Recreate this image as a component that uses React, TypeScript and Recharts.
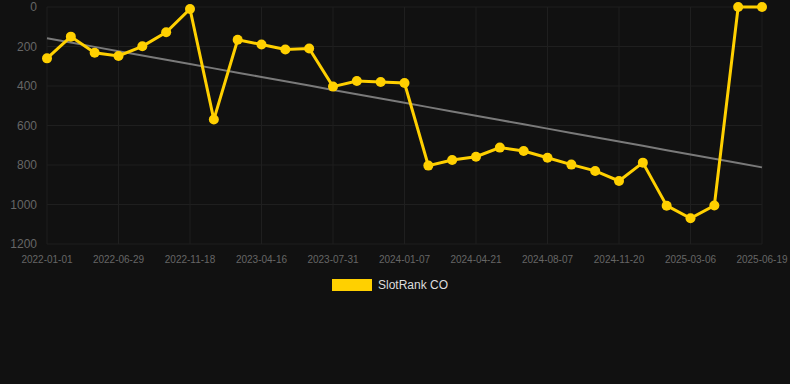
import React from 'react';
import { LineChart, Line, XAxis, YAxis, CartesianGrid, Legend } from 'recharts';

const dates = [
  '2022-01-01', '2022-02-28', '2022-04-29', '2022-06-29', '2022-08-15', '2022-10-01',
  '2022-11-18', '2022-12-28', '2023-02-15', '2023-04-16', '2023-05-20', '2023-06-25',
  '2023-07-31', '2023-09-20', '2023-11-15', '2024-01-07', '2024-02-10', '2024-03-15',
  '2024-04-21', '2024-05-25', '2024-07-01', '2024-08-07', '2024-09-10', '2024-10-15',
  '2024-11-20', '2024-12-25', '2025-01-30', '2025-03-06', '2025-04-10', '2025-05-15',
  '2025-06-19',
];

const ranks = [
  260, 150, 232, 248, 199, 128, 10, 570, 166, 190, 215, 210, 403, 375, 380, 385,
  803, 775, 758, 712, 729, 763, 798, 830, 881, 788, 1006, 1070, 1005, 0, 0,
];

const yTicks = [0, 200, 400, 600, 800, 1000, 1200];

// least-squares trend over the series
const n = ranks.length;
const meanX = (n - 1) / 2;
const meanY = ranks.reduce((a, b) => a + b, 0) / n;
let sxy = 0;
let sxx = 0;
ranks.forEach((v, i) => {
  sxy += (i - meanX) * (v - meanY);
  sxx += (i - meanX) * (i - meanX);
});
const slope = sxy / sxx;

const data = dates.map((d, i) => ({
  date: d,
  rank: ranks[i],
  trend: meanY + slope * (i - meanX),
}));

const renderLegend = () => (
  <div style={{ display: 'flex', alignItems: 'center', justifyContent: 'center', fontFamily: 'Liberation Sans, Arial, sans-serif', fontSize: 12, color: '#dddddd' }}>
    <span style={{ display: 'inline-block', width: 40, height: 12, background: '#FFD000', marginRight: 6 }} />
    <span>SlotRank CO</span>
  </div>
);

export default function App() {
  return (
    <div style={{ position: 'absolute', left: 0, top: 0, width: 790, height: 384, background: '#111111' }}>
      <LineChart
        width={790}
        height={384}
        data={data}
        margin={{ top: 7, right: 28, bottom: 96, left: 7 }}
        style={{ fontFamily: 'Liberation Sans, Arial, sans-serif' }}
      >
        <CartesianGrid stroke="#1f1f1f" strokeWidth={1} />
        <XAxis
          dataKey="date"
          interval={2}
          tick={{ fill: '#666666', fontSize: 10 }}
          tickLine={false}
          tickSize={0}
          tickMargin={12}
          axisLine={false}
          height={30}
        />
        <YAxis
          reversed
          domain={[0, 1200]}
          ticks={yTicks}
          width={40}
          tick={{ fill: '#666666', fontSize: 12 }}
          tickLine={false}
          tickSize={0}
          tickMargin={10}
          axisLine={false}
          interval={0}
        />
        <Legend
          content={renderLegend}
          wrapperStyle={{ position: 'absolute', top: 278, left: -5, width: 790 }}
        />
        <Line
          dataKey="trend"
          stroke="#7a7a7a"
          strokeWidth={2}
          dot={false}
          activeDot={false}
          isAnimationActive={false}
          legendType="none"
        />
        <Line
          dataKey="rank"
          stroke="#FFD000"
          strokeWidth={3}
          dot={{ r: 5, fill: '#FFD000', stroke: '#FFD000', strokeWidth: 0 }}
          isAnimationActive={false}
        />
      </LineChart>
    </div>
  );
}
